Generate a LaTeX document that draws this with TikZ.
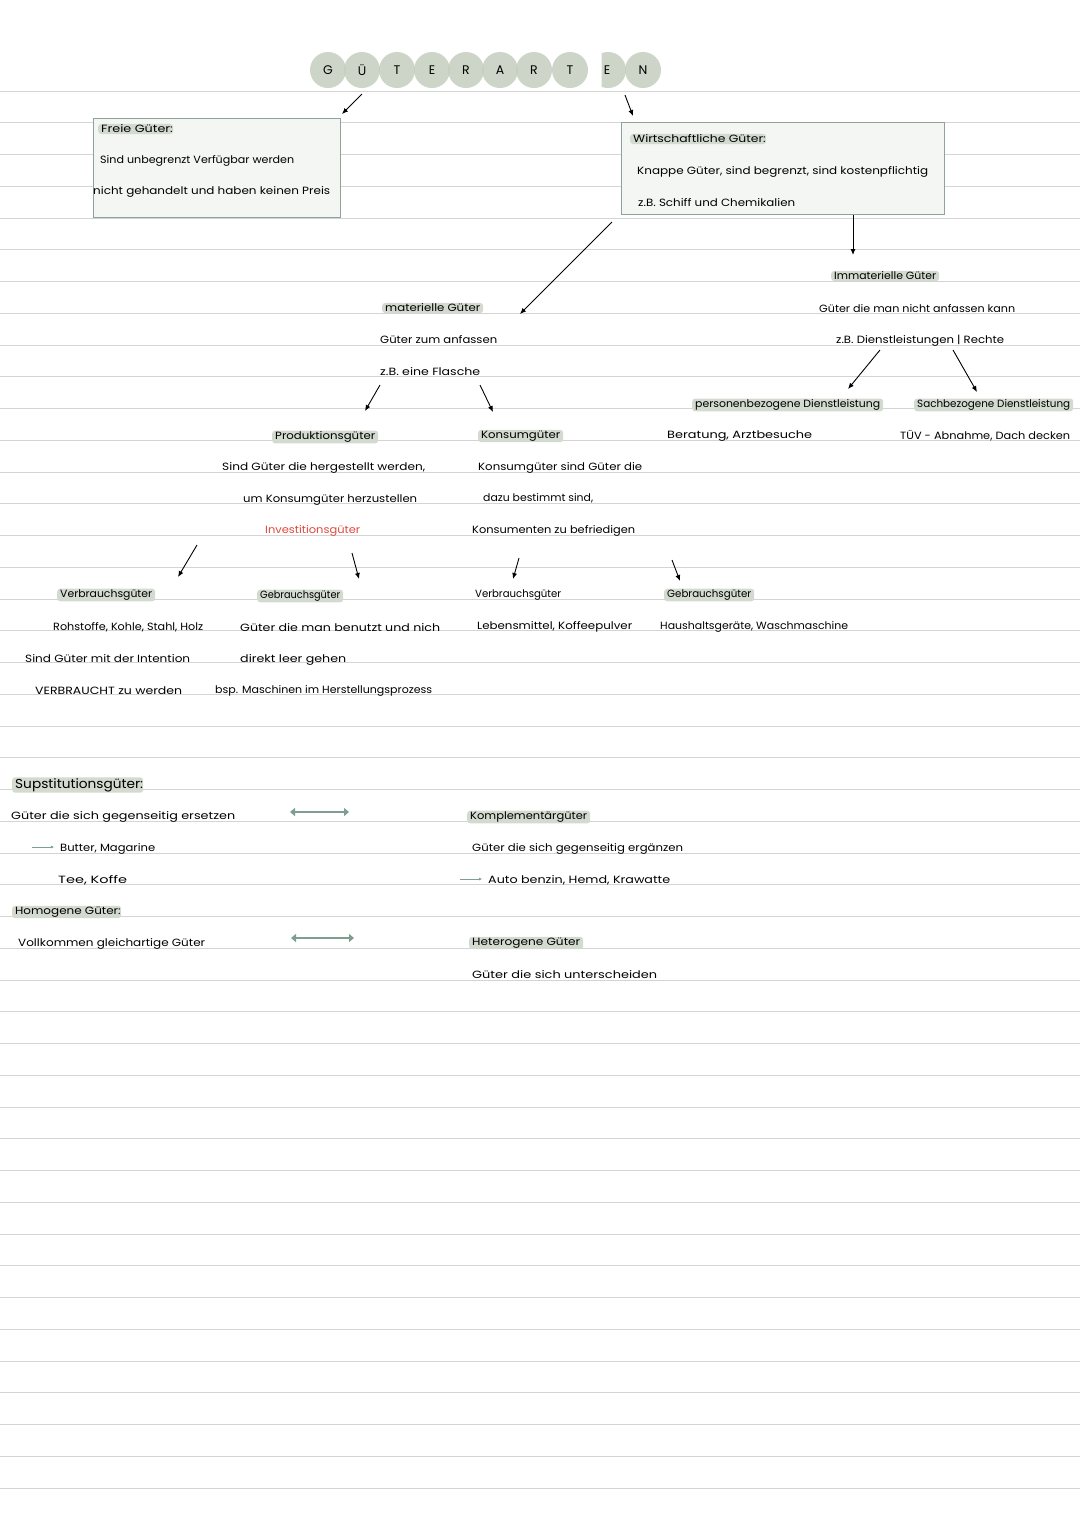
\documentclass[tikz,border=0pt]{standalone}
\usepackage{fontspec}
\usepackage{graphicx}
\setmainfont{Poppins}
\usetikzlibrary{arrows.meta}
\definecolor{rulecol}{HTML}{D4D4D4}
\definecolor{hlcol}{HTML}{D3DBD0}
\definecolor{circcol}{HTML}{C4CEBE}
\definecolor{boxfill}{HTML}{F3F6F3}
\definecolor{boxline}{HTML}{8FA39A}
\definecolor{sage}{HTML}{7E9E90}
\definecolor{invcol}{HTML}{E0493F}
\newlength\fitlen
\newcommand\fitto[2]{\settowidth{\fitlen}{#2}\scalebox{\fpeval{#1/\fitlen}}[1]{#2}}
\tikzset{
  txt/.style={anchor=west,inner sep=0pt,font=\fontsize{10.5}{12}\selectfont},
  lab/.style={txt,fill=hlcol,rounded corners=3pt,inner xsep=3pt,inner ysep=1pt},
  biglab/.style={lab,font=\fontsize{13}{15}\selectfont},
  notebox/.style={draw=boxline,fill=boxfill,line width=0.9pt,inner sep=0pt},
  arr/.style={-{Latex[length=6pt,width=5pt]},line width=0.9pt,black},
  dblarr/.style={{Triangle[length=5pt,width=8pt]}-{Triangle[length=5pt,width=8pt]},line width=2.6pt,sage},
  smallarr/.style={-{Latex[length=3pt,width=3pt]},line width=0.8pt,sage},
  letter/.style={circle,minimum size=36pt,inner sep=0pt,fill=circcol,fill opacity=0.85,text opacity=1,font=\fontsize{12.5}{13}\selectfont},
  bareletter/.style={inner sep=0pt,font=\fontsize{12.5}{13}\selectfont}
}
\begin{document}
\begin{tikzpicture}[x=1pt,y=-1pt]
\useasboundingbox (0,0) rectangle (1080,1527);
\fill[white] (0,0) rectangle (1080,1527);
% ruled paper
\foreach \k in {0,...,44}{
  \draw[rulecol,line width=0.9pt] (0,{91+31.75*\k}) -- (1080,{91+31.75*\k});
}
% title
\node[letter] (t1) at (328,70) {G};
\node[letter] (t2) at (362,70) {Ü};
\node[letter] (t3) at (397,70) {T};
\node[letter] (t4) at (432,70) {E};
\node[letter] (t5) at (466,70) {R};
\node[letter] (t6) at (500,70) {A};
\node[letter] (t7) at (534,70) {R};
\node[letter] (t8) at (570,70) {T};
\coordinate (t9c) at (608,70);
\fill[circcol,fill opacity=0.85] (t9c) ++(110.7:18) arc[start angle=110.7,end angle=-110.7,radius=18] -- cycle;
\node[bareletter] (t9) at (607,70) {E};
\node[letter] (t10) at (643,70) {N};
% arrows from title
\coordinate (a1s) at (362,94); \coordinate (a1e) at (342,114);
\coordinate (a2s) at (625,95); \coordinate (a2e) at (633,116);
\draw[arr] (a1s) -- (a1e);
\draw[arr] (a2s) -- (a2e);
% Freie Gueter box
\node[notebox,minimum width=247pt,minimum height=99pt] (fbox) at (216.5,167.5) {};
\node[lab] (freie) at (98,129) {\fitto{69}{Freie Güter\rlap{:}}};
\node[txt] (freie1) at (100,161) {\fitto{194}{Sind unbegrenzt Verfügbar werden}};
\node[txt] (freie2) at (93,192) {\fitto{237}{nicht gehandelt und haben keinen Preis}};
% Wirtschaftliche Gueter box
\node[notebox,minimum width=323pt,minimum height=92pt] (wbox) at (782.5,168) {};
\node[lab] (wirt) at (630,139) {\fitto{130}{Wirtschaftliche Güter\rlap{:}}};
\node[txt] (wirt1) at (637,172) {\fitto{291}{Knappe Güter, sind begrenzt, sind kostenpflichtig}};
\node[txt] (wirt2) at (638,203) {\fitto{157}{z.B. Schiff und Chemikalien}};
% arrows from Wirtschaftliche
\coordinate (a3s) at (612,222); \coordinate (a3e) at (520,314);
\coordinate (a4s) at (853,215); \coordinate (a4e) at (853,255);
\draw[arr] (a3s) -- (a3e);
\draw[arr] (a4s) -- (a4e);
% materielle
\node[lab] (mat) at (382,308) {\fitto{95}{materielle Güter}};
\node[txt] (mat1) at (380,340) {\fitto{117}{Güter zum anfassen}};
\node[txt] (mat2) at (380,372) {\fitto{100}{z.B. eine Flasche}};
\coordinate (a5s) at (380,385); \coordinate (a5e) at (365,411);
\coordinate (a6s) at (480,385); \coordinate (a6e) at (493,412);
\draw[arr] (a5s) -- (a5e);
\draw[arr] (a6s) -- (a6e);
% immaterielle
\node[lab] (imm) at (831,276) {\fitto{102}{Immaterielle Güter}};
\node[txt] (imm1) at (819,309) {\fitto{196}{Güter die man nicht anfassen kann}};
\node[txt] (imm2) at (836,341) {\fitto{168}{z.B. Dienstleistungen | Rechte}};
\coordinate (a7s) at (880,350); \coordinate (a7e) at (848,389);
\coordinate (a8s) at (953,350); \coordinate (a8e) at (977,392);
\draw[arr] (a7s) -- (a7e);
\draw[arr] (a8s) -- (a8e);
\node[lab] (pers) at (692,405) {\fitto{185}{personenbezogene Dienstleistung}};
\node[txt] (pers1) at (667,436) {\fitto{145}{Beratung, Arztbesuche}};
\node[lab] (sach) at (914,405) {\fitto{153}{Sachbezogene Dienstleistung}};
\node[txt] (sach1) at (900,436) {\fitto{170}{TÜV - Abnahme, Dach decken}};
% Produktionsgueter
\node[lab] (prod) at (272,437) {\fitto{100}{Produktionsgüter}};
\node[txt] (prod1) at (222,468) {\fitto{203}{Sind Güter die hergestellt werden,}};
\node[txt] (prod2) at (243,500) {\fitto{174}{um Konsumgüter herzustellen}};
\node[txt,text=invcol] (prod3) at (265,531) {\fitto{95}{Investitionsgüter}};
% Konsumgueter
\node[lab] (kons) at (478,436) {\fitto{79}{Konsumgüter}};
\node[txt] (kons1) at (478,468) {\fitto{164}{Konsumgüter sind Güter die}};
\node[txt] (kons2) at (483,498) {\fitto{110}{dazu bestimmt sind,}};
\node[txt] (kons3) at (472,531) {\fitto{163}{Konsumenten zu befriedigen}};
% arrows to level 4
\coordinate (a9s) at (197,545); \coordinate (a9e) at (178,577);
\coordinate (a10s) at (352,553); \coordinate (a10e) at (359,579);
\coordinate (a11s) at (519,558); \coordinate (a11e) at (513,579);
\coordinate (a12s) at (672,560); \coordinate (a12e) at (680,581);
\draw[arr] (a9s) -- (a9e);
\draw[arr] (a10s) -- (a10e);
\draw[arr] (a11s) -- (a11e);
\draw[arr] (a12s) -- (a12e);
% level 4 left
\node[lab] (verb) at (57,595) {\fitto{92}{Verbrauchsgüter}};
\node[txt] (verb1) at (53,627) {\fitto{150}{Rohstoffe, Kohle, Stahl, Holz}};
\node[txt] (verb2) at (25,659) {\fitto{165}{Sind Güter mit der Intention}};
\node[txt] (verb3) at (35,691) {\fitto{147}{VERBRAUCHT zu werden}};
\node[lab] (gebr) at (257,596) {\fitto{80}{Gebrauchsgüter}};
\node[txt] (gebr1) at (240,628) {\fitto{200}{Güter die man benutzt und nich}};
\node[txt] (gebr2) at (240,660) {\fitto{106}{direkt leer gehen}};
\node[txt] (gebr3) at (215,691) {\fitto{217}{bsp. Maschinen im Herstellungsprozess}};
% level 4 right
\node[txt] (verbk) at (475,595) {\fitto{86}{Verbrauchsgüter}};
\node[txt] (verbk1) at (477,627) {\fitto{155}{Lebensmittel, Koffeepulver}};
\node[lab] (gebrk) at (664,595) {\fitto{84}{Gebrauchsgüter}};
\node[txt] (gebrk1) at (660,627) {\fitto{188}{Haushaltsgeräte, Waschmaschine}};
% bottom section
\node[biglab] (sup) at (12,785) {\fitto{125}{Supstitutionsgüter\rlap{:}}};
\node[txt] (sup1) at (11,817) {\fitto{224}{Güter die sich gegenseitig ersetzen}};
\coordinate (b1s) at (32,847); \coordinate (b1e) at (54,847);
\draw[smallarr] (b1s) -- (b1e);
\node[txt] (sup2) at (60,849) {\fitto{95}{Butter, Magarine}};
\node[txt] (sup3) at (58,880) {\fitto{69}{Tee, Koffe}};
\node[lab] (hom) at (12,912) {\fitto{103}{Homogene Güter\rlap{:}}};
\node[txt] (hom1) at (18,944) {\fitto{187}{Vollkommen gleichartige Güter}};
\coordinate (d1s) at (290,812); \coordinate (d1e) at (349,812);
\coordinate (d2s) at (291,938); \coordinate (d2e) at (354,938);
\draw[dblarr] (d1s) -- (d1e);
\draw[dblarr] (d2s) -- (d2e);
\node[lab] (kompl) at (467,817) {\fitto{117}{Komplementärgüter}};
\node[txt] (kompl1) at (472,849) {\fitto{211}{Güter die sich gegenseitig ergänzen}};
\coordinate (b2s) at (460,879); \coordinate (b2e) at (482,879);
\draw[smallarr] (b2s) -- (b2e);
\node[txt] (kompl2) at (488,880) {\fitto{182}{Auto benzin, Hemd, Krawatte}};
\node[lab] (het) at (469,943) {\fitto{108}{Heterogene Güter}};
\node[txt] (het1) at (472,975) {\fitto{185}{Güter die sich unterscheiden}};
\end{tikzpicture}
\end{document}
